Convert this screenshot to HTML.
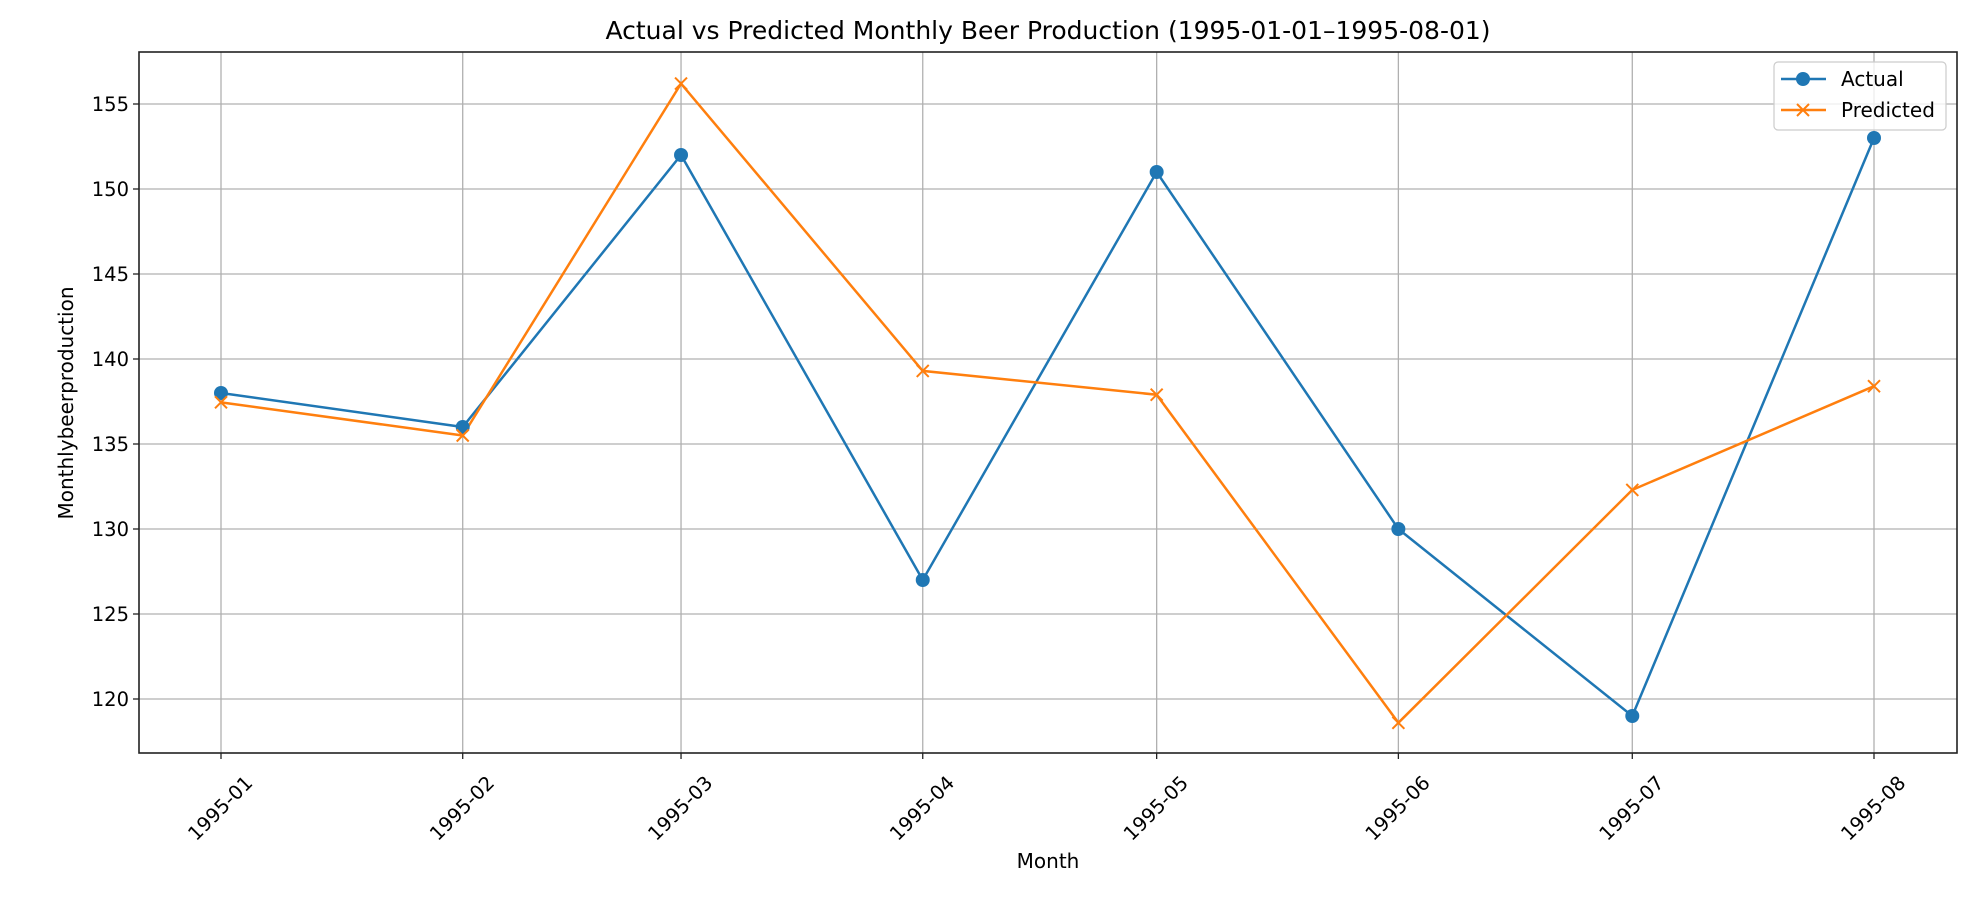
<!DOCTYPE html>
<html><head><meta charset="utf-8"><style>
html,body{margin:0;padding:0;background:#fff;}
svg text{font-family:"DejaVu Sans","Liberation Sans",sans-serif;fill:#000;}
</style></head><body>
<svg id="chart" width="1980" height="892" viewBox="0 0 1980 892" xmlns="http://www.w3.org/2000/svg">
<rect width="1980" height="892" fill="#fff"/>
<g id="grid"></g>
<g id="series"></g>
<g id="axes"></g>
<text x="1048" y="39" font-size="25" text-anchor="middle">Actual vs Predicted Monthly Beer Production (1995-01-01–1995-08-01)</text>
<text x="1048" y="868" font-size="20" text-anchor="middle">Month</text>
<text transform="translate(73,403) rotate(-90)" font-size="20" text-anchor="middle">Monthlybeerproduction</text>
<g>
<rect x="1774" y="62" width="172" height="68" rx="4" fill="#fff" fill-opacity="0.8" stroke="#ccc" stroke-width="1.2"/>
<line x1="1781" y1="79" x2="1826" y2="79" stroke="#1f77b4" stroke-width="2.5"/>
<circle cx="1803" cy="79" r="7" fill="#1f77b4"/>
<text x="1841" y="86" font-size="20">Actual</text>
<line x1="1781" y1="110" x2="1826" y2="110" stroke="#ff7f0e" stroke-width="2.5"/>
<path d="M1797,104 L1809,116 M1797,116 L1809,104" stroke="#ff7f0e" stroke-width="2"/>
<text x="1841" y="117" font-size="20">Predicted</text>
</g>
</svg>
<script>
const categories = ["1995-01","1995-02","1995-03","1995-04","1995-05","1995-06","1995-07","1995-08"];
const dayOffsets = [0,31,59,90,120,151,181,212];
const actualValues = [138,136,152,127,151,130,119,153];
const predictedValues = [137.45,135.5,156.2,139.3,137.9,118.6,132.3,138.4];
const yTicks = [120,125,130,135,140,145,150,155];

const L=139,R=1957,T=52,B=753;
function xs(i){return 221+dayOffsets[i]*(1874-221)/212;}
function ys(v){return 104+(155-v)*17;}
const NS="http://www.w3.org/2000/svg";
function mk(tag,attrs,parent){const e=document.createElementNS(NS,tag);for(const k in attrs)e.setAttribute(k,attrs[k]);parent.appendChild(e);return e;}
const grid=document.getElementById('grid'),axes=document.getElementById('axes'),series=document.getElementById('series');
yTicks.forEach(v=>{
  const y=ys(v);
  const g=mk('line',{x1:L,x2:R,y1:y,y2:y,stroke:'#b0b0b0','stroke-width':1.3},grid);
  
  
  mk('line',{x1:L-6,x2:L,y1:y,y2:y,stroke:'#222','stroke-width':1.3},axes);
  const t=mk('text',{x:L-10,y:y+7,'font-size':19.5,'text-anchor':'end'},axes);
  t.textContent=v;
  
  
});
categories.forEach((c,i)=>{
  const x=xs(i);
  const g=mk('line',{x1:x,x2:x,y1:T,y2:B,stroke:'#b0b0b0','stroke-width':1.3},grid);
  
  
  mk('line',{x1:x,x2:x,y1:B,y2:B+6,stroke:'#222','stroke-width':1.3},axes);
  const t=mk('text',{x:0,y:7,'font-size':19.5,'text-anchor':'middle',transform:`translate(${x-1},${B+55}) rotate(-45)`},axes);
  t.textContent=c;
  
  
});
const frame=mk('rect',{x:L,y:T,width:R-L,height:B-T,fill:'none',stroke:'#222','stroke-width':1.6},axes);


function pts(vals){return vals.map((v,i)=>xs(i)+','+ys(v)).join(' ');}
const la=mk('polyline',{points:pts(actualValues),fill:'none',stroke:'#1f77b4','stroke-width':2.5},series);


const lp=mk('polyline',{points:pts(predictedValues),fill:'none',stroke:'#ff7f0e','stroke-width':2.5},series);


actualValues.forEach((v,i)=>{
  const c=mk('circle',{cx:xs(i),cy:ys(v),r:7,fill:'#1f77b4'},series);
  
  
});
predictedValues.forEach((v,i)=>{
  const x=xs(i),y=ys(v);
  const p=mk('path',{d:`M${x-6},${y-6} L${x+6},${y+6} M${x-6},${y+6} L${x+6},${y-6}`,stroke:'#ff7f0e','stroke-width':2,fill:'none'},series);
  
  
});
</script>
</body></html>
